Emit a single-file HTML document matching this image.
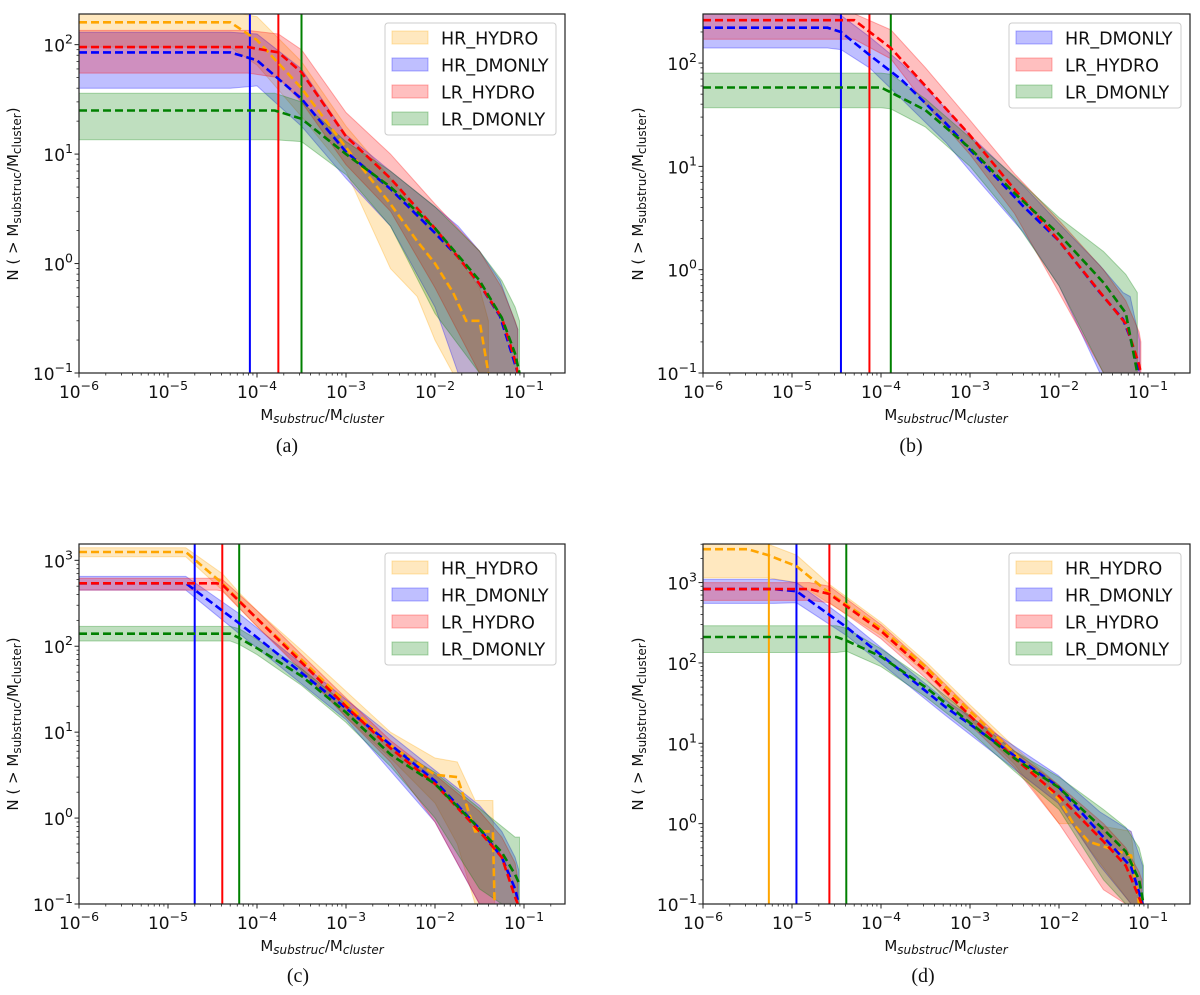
<!DOCTYPE html>
<html><head><meta charset="utf-8">
<style>
html,body{margin:0;padding:0;background:#fff;}
svg{display:block;font-family:"DejaVu Sans","Liberation Sans",sans-serif;}
.cap{font-family:"Liberation Serif",serif;font-size:20px;}
</style></head>
<body>
<svg id="fig" width="1200" height="995" viewBox="0 0 1200 995" xmlns="http://www.w3.org/2000/svg"></svg>
<script>
// ---- data (log10 of mass ratio as x knots; N values for median / lower / upper) ----
const seriesNames = ["HR_HYDRO","HR_DMONLY","LR_HYDRO","LR_DMONLY"];
const seriesColors = ["#ffa500","#0000ff","#ff0000","#008000"];

// Panel (a)
const aX   = [[-6,-4.3,-4,-3.5,-3,-2.5,-2.2,-2,-1.8,-1.65,-1.5,-1.4],
              [-6,-4.3,-4,-3.5,-3,-2.5,-2,-1.74,-1.5,-1.27,-1.07],
              [-6,-4.1,-3.76,-3.5,-3,-2.5,-2,-1.5,-1.25,-1.1,-1.07],
              [-6,-3.8,-3.5,-3,-2.5,-2,-1.5,-1.25,-1.1,-1.05]];
const aMed = [[160,160,110,40,11.5,3.5,1.6,1.0,0.55,0.3,0.3,0.1],
              [85,85,72,32,10.5,4.8,1.9,1.15,0.65,0.33,0.1],
              [95,95,85,56,14.5,6,2.1,0.65,0.32,0.13,0.1],
              [25,25,21,10,5,2.1,0.7,0.32,0.15,0.1]];
const aLo  = [[95,95,65,22,7,0.9,0.5,0.2,0.1,0.1,0.1,0.1],
              [40,40,42,18,6,2.2,0.4,0.1,0.1,0.1,0.1],
              [55,55,50,30,8,3,0.6,0.1,0.1,0.1,0.1],
              [13.5,13.5,13,6.5,2.2,0.35,0.1,0.1,0.1,0.1]];
const aHi  = [[200,200,180,70,18,6,3,2,1.3,0.9,0.6,0.3],
              [130,130,125,60,15,7,3.3,2.2,1.3,0.7,0.25],
              [135,135,125,90,24,10,3.5,1.3,0.6,0.3,0.25],
              [36,36,30,13,7,3.3,1.3,0.7,0.4,0.3]];
const aCut = [null,-4.08,-3.76,-3.5];

// Panel (b) (no HR_HYDRO)
const bX   = [null,
              [-6,-4.6,-4.45,-4.13,-3.77,-3.27,-3,-2.4,-2,-1.54,-1.28,-1.2,-1.09],
              [-6,-4.3,-3.89,-3.5,-3,-2.5,-2,-1.5,-1.25,-1.1,-1.08],
              [-6,-4,-3.89,-3.5,-3,-2.5,-2,-1.5,-1.25,-1.12]];
const bMed = [null,
              [220,220,200,120,69,26,14.5,4.1,1.9,0.6,0.33,0.22,0.1],
              [260,260,140,60,20,6,1.9,0.55,0.3,0.12,0.1],
              [58,58,52,35,15,5.5,2.2,0.75,0.38,0.1]];
const bLo  = [null,
              [140,140,135,90,45,17,9,2.3,0.7,0.1,0.1,0.1,0.1],
              [170,170,110,40,13,3.5,0.6,0.1,0.1,0.1,0.1],
              [37,37,36,24,10,3,0.7,0.1,0.1,0.1]];
const bHi  = [null,
              [300,300,290,180,100,36,20,6.5,2.8,1.1,0.6,0.55,0.2],
              [300,300,210,90,28,8.5,3,1.0,0.5,0.25,0.2],
              [80,80,78,45,19,8,3.2,1.5,0.9,0.6]];
const bCut = [null,-4.45,-4.13,-3.89];

// Panel (c)
const cX   = [[-6,-4.8,-4.39,-4.2,-4,-3.5,-3,-2.5,-2,-1.75,-1.55,-1.35,-1.33],
              [-6,-4.8,-4.2,-3,-2,-1.5,-1.25,-1.1,-1.06],
              [-6,-4.45,-4.39,-4,-3.5,-3,-2.5,-2,-1.5,-1.25,-1.1,-1.07],
              [-6,-4.3,-4.2,-4,-3.5,-3,-2.5,-2,-1.5,-1.25,-1.1,-1.05]];
const cMed = [[1250,1250,540,340,210,70,22,7,3.2,3.0,0.7,0.7,0.1],
              [540,540,185,19,2.7,0.75,0.35,0.15,0.1],
              [540,540,520,210,65,20,6.5,2.5,0.7,0.35,0.12,0.1],
              [140,140,125,95,45,17,5.5,2.5,0.75,0.4,0.22,0.17]];
const cLo  = [[1100,1100,450,280,170,55,15,5,1.5,0.5,0.1,0.1,0.1],
              [450,450,140,14,0.9,0.1,0.1,0.1,0.1],
              [450,450,440,170,52,15,4.5,0.9,0.1,0.1,0.1,0.1],
              [115,115,105,80,35,13,4,1.0,0.15,0.1,0.1,0.1]];
const cHi  = [[1400,1400,700,420,260,90,30,10,5,4.5,1.6,1.6,0.1],
              [650,650,240,24,3.6,1.4,0.7,0.35,0.25],
              [620,620,600,260,80,25,8,3.2,1.2,0.6,0.3,0.2],
              [170,170,160,120,55,21,7,3.4,1.3,0.8,0.6,0.6]];
const cCut = [null,-4.7,-4.39,-4.2];

// Panel (d)
const dX   = [[-6,-5.5,-5.27,-4.95,-4.58,-4,-3.5,-3,-2.5,-2,-1.84,-1.67,-1.19,-1.1],
              [-6,-5.2,-4.95,-4.39,-3.27,-2.01,-1.54,-1.19,-1.06],
              [-6,-4.8,-4.58,-4,-3.5,-3,-2.5,-2,-1.5,-1.25,-1.1,-1.07],
              [-6,-4.5,-4.39,-4,-3.5,-3,-2.5,-2,-1.5,-1.25,-1.1,-1.05]];
const dMed = [[2600,2600,2200,1600,740,270,90,25,7.5,2,1,0.6,0.4,0.1],
              [830,830,780,280,28,2.9,0.76,0.29,0.1],
              [830,830,720,250,80,22,6.5,2.2,0.6,0.3,0.12,0.1],
              [210,210,190,120,50,18,6.5,2.8,0.85,0.45,0.2,0.1]];
const dLo  = [[1150,1150,1150,1000,550,220,75,20,5.5,1.0,1.0,0.5,0.1,0.1],
              [550,550,560,220,22,1.8,0.3,0.1,0.1],
              [600,600,560,200,65,17,5,1.0,0.15,0.1,0.1,0.1],
              [135,135,140,90,38,14,4.5,1.5,0.2,0.1,0.1,0.1]];
const dHi  = [[3000,3000,3000,2200,950,320,105,30,9,3,1.5,1.0,0.8,0.1],
              [1100,1100,1000,350,34,4,1.4,0.8,0.3],
              [1000,1000,900,300,95,27,8,3,1.0,0.5,0.25,0.2],
              [290,290,270,150,62,22,8,3.8,1.5,0.9,0.5,0.3]];
const dCut = [-5.26,-4.95,-4.58,-4.39];

const xTickExps = [-6,-5,-4,-3,-2,-1];
const panelNames = ["a","b","c","d"];

// ---- layout (not data) ----
const layouts = [
  {L:79, R:565, T:14, B:373, ymax:2.28, cap:[287,452], lx:13, ly:194, xt:[322,420], leg:[385,23,171,4]},
  {L:703,R:1190,T:14, B:373, ymax:2.475,cap:[911,452], lx:638,ly:194, xt:[946,420], leg:[1009,23,172,3]},
  {L:79, R:565, T:544,B:904, ymax:3.19, cap:[298,982], lx:13, ly:724, xt:[322,951], leg:[385,553,171,4]},
  {L:703,R:1190,T:544,B:904, ymax:3.48, cap:[923,982], lx:638,ly:724, xt:[946,951], leg:[1009,553,172,4]}
];
const data = [[aX,aMed,aLo,aHi,aCut],[bX,bMed,bLo,bHi,bCut],[cX,cMed,cLo,cHi,cCut],[dX,dMed,dLo,dHi,dCut]];
const legendSeries = [[0,1,2,3],[1,2,3],[0,1,2,3],[0,1,2,3]];

const NS="http://www.w3.org/2000/svg";
const svg=document.getElementById('fig');
function mk(tag,attrs,parent){const e=document.createElementNS(NS,tag);for(const k in attrs)e.setAttribute(k,attrs[k]);(parent||svg).appendChild(e);return e;}

layouts.forEach((lay,pi)=>{
  const g=mk('g',{});
  
  
  const xmin=-6, xmax=-6+(lay.R-lay.L)/89, ymin=-1;
  const sx=v=>lay.L+(v-xmin)/(xmax-xmin)*(lay.R-lay.L);
  const sy=n=>{const v=Math.log10(Math.max(n,0.03));return lay.B-(v-ymin)/(lay.ymax-ymin)*(lay.B-lay.T);};
  const cid='clip'+pi;
  const cp=mk('clipPath',{id:cid},g);mk('rect',{x:lay.L,y:lay.T,width:lay.R-lay.L,height:lay.B-lay.T},cp);
  const plot=mk('g',{'clip-path':'url(#'+cid+')'},g);
  
  
  const [X,Med,Lo,Hi,Cut]=data[pi];
  for(let s=0;s<4;s++){ if(!X[s])continue;
    let d='';X[s].forEach((x,i)=>{d+=(i?'L':'M')+sx(x).toFixed(1)+','+sy(Hi[s][i]).toFixed(1);});
    for(let i=X[s].length-1;i>=0;i--)d+='L'+sx(X[s][i]).toFixed(1)+','+sy(Lo[s][i]).toFixed(1);
    const p=mk('path',{d:d+'Z',fill:seriesColors[s],'fill-opacity':0.25,stroke:seriesColors[s],'stroke-opacity':0.3,'stroke-width':1},plot);
    
    
  }
  for(let s=0;s<4;s++){ if(Cut[s]==null)continue;
    const l=mk('line',{x1:sx(Cut[s]),x2:sx(Cut[s]),y1:lay.T,y2:lay.B,stroke:seriesColors[s],'stroke-width':2},plot);
    
    
  }
  for(let s=0;s<4;s++){ if(!X[s])continue;
    const pts=X[s].map((x,i)=>sx(x).toFixed(1)+','+sy(Med[s][i]).toFixed(1)).join(' ');
    const pl=mk('polyline',{points:pts,fill:'none',stroke:seriesColors[s],'stroke-width':2.6,'stroke-dasharray':'8,4'},plot);
    
    
  }
  const fr=mk('rect',{x:lay.L,y:lay.T,width:lay.R-lay.L,height:lay.B-lay.T,fill:'none',stroke:'#222','stroke-width':1.2},g);
  
  
  for(let e=-6;e<=-1;e++){
    for(let m=1;m<10;m++){const v=e+Math.log10(m);if(v>xmax)break;const x=sx(v);
      mk('line',{x1:x,x2:x,y1:lay.B,y2:lay.B+(m==1?4.5:2.5),stroke:'#222','stroke-width':m==1?1:0.8},g);}
  }
  xTickExps.forEach(e=>{
    const t=mk('text',{x:sx(e),y:lay.B+25,'text-anchor':'middle','font-size':17,fill:'#111'},g);
    
    
    t.textContent='10';const sp=mk('tspan',{dy:-8,'font-size':12.5},t);sp.textContent='\u2212'+(-e);
  });
  const ytop=Math.floor(lay.ymax);
  for(let e=-1;e<=ytop;e++){
    for(let m=1;m<10;m++){const v=e+Math.log10(m);if(v>lay.ymax)break;const y=sy(Math.pow(10,v));
      mk('line',{x1:lay.L,x2:lay.L-(m==1?4.5:2.5),y1:y,y2:y,stroke:'#222','stroke-width':m==1?1:0.8},g);}
    const t=mk('text',{x:lay.L-6,y:sy(Math.pow(10,e))+7,'text-anchor':'end','font-size':17,fill:'#111'},g);
    
    
    const b=mk('tspan',{},t);b.textContent='10';
    const sp=mk('tspan',{dy:-8,'font-size':12.5},t);sp.textContent=e<0?'\u2212'+(-e):String(e);
  }
  const xt=mk('text',{x:lay.xt[0],y:lay.xt[1],'text-anchor':'middle','font-size':15,fill:'#111'},g);
  
  
  xt.innerHTML='M<tspan dy="3" font-size="12" font-style="italic">substruc</tspan><tspan dy="-3">/M</tspan><tspan dy="3" font-size="12" font-style="italic">cluster</tspan>';
  const yt=mk('text',{x:0,y:0,'text-anchor':'middle','font-size':15,fill:'#111',transform:`translate(${lay.lx+5},${lay.ly}) rotate(-90)`},g);
  
  
  yt.innerHTML='N ( &gt; M<tspan dy="3" font-size="12">substruc</tspan><tspan dy="-3">/M</tspan><tspan dy="3" font-size="12">cluster</tspan><tspan dy="-3">)</tspan>';
  const cap=mk('text',{x:lay.cap[0],y:lay.cap[1],'text-anchor':'middle',class:'cap',fill:'#111'},g);
  
  
  cap.textContent='('+panelNames[pi]+')';
  const [lx,ly,lw,n]=lay.leg;
  const lg=mk('g',{},g);
  
  
  mk('rect',{x:lx,y:ly,width:lw,height:n*27+4,rx:3,fill:'#fff','fill-opacity':0.85,stroke:'#ccc'},lg);
  legendSeries[pi].forEach((s,i)=>{
    const yy=ly+8+i*27;
    const ent=mk('g',{},lg);
    
    
    mk('rect',{x:lx+7,y:yy,width:36,height:13,fill:seriesColors[s],'fill-opacity':0.25,stroke:seriesColors[s],'stroke-opacity':0.3},ent);
    const t=mk('text',{x:lx+56,y:yy+13.5,'font-size':17.5,fill:'#111'},ent);
    t.textContent=seriesNames[s];
  });
});
</script>
</body></html>
